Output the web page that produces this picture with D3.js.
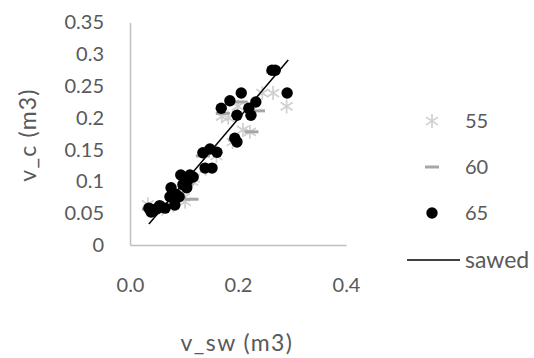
<!DOCTYPE html>
<html><head><meta charset="utf-8">
<script src="https://cdn.jsdelivr.net/npm/d3@7/dist/d3.min.js"></script>
<style>body{margin:0;background:#fff}svg{display:block}</style>
</head><body>
<svg id="c" width="534" height="358"></svg>
<script>
const xTicks = [0, 0.2, 0.4];
const yTicks = [0, 0.05, 0.1, 0.15, 0.2, 0.25, 0.3, 0.35];
const seriesNames = ["55", "60", "65", "sawed"];

const s55x = [0.033,0.045,0.060,0.080,0.102,0.100,0.115,0.140,0.160,0.190,0.209,0.222,0.170,0.200,0.265,0.290,0.182,0.245,0.118];
const s55y = [0.064,0.055,0.057,0.062,0.068,0.075,0.100,0.120,0.140,0.162,0.181,0.178,0.202,0.218,0.239,0.218,0.200,0.239,0.105];

const s60x = [0.035,0.050,0.070,0.090,0.114,0.105,0.135,0.150,0.172,0.237,0.225,0.195,0.265,0.205];
const s60y = [0.056,0.058,0.060,0.075,0.072,0.095,0.140,0.148,0.207,0.211,0.178,0.165,0.272,0.225];

const s65x = [0.035,0.039,0.050,0.065,0.083,0.076,0.074,0.091,0.105,0.107,0.094,0.111,0.117,0.135,0.148,0.161,0.139,0.152,0.194,0.198,0.263,0.269,0.291,0.206,0.185,0.169,0.198,0.220,0.233,0.224,0.055,0.085,0.098,0.045];
const s65y = [0.058,0.052,0.057,0.058,0.063,0.090,0.076,0.076,0.090,0.102,0.110,0.110,0.107,0.145,0.151,0.146,0.121,0.121,0.168,0.162,0.275,0.275,0.239,0.239,0.227,0.215,0.204,0.215,0.225,0.204,0.062,0.080,0.095,0.055];

const sawedX = [0.035, 0.293];
const sawedY = [0.033, 0.291];

const svg = d3.select("#c");
const font = "Lato, 'Open Sans', sans-serif";
const txt = "#595959";
const x = d3.scaleLinear().domain([0, 0.4]).range([130, 346]);
const y = d3.scaleLinear().domain([0, 0.35]).range([245, 22.5]);

// axes
const ya = svg.append("g").attr("transform", "translate(130,0)")
  .call(d3.axisLeft(y).tickValues(yTicks).tickSize(0).tickPadding(26)
    .tickFormat(d => d === 0 ? "0" : String(+d.toFixed(2))));
const xa = svg.append("g").attr("transform", "translate(0,245)")
  .call(d3.axisBottom(x).tickValues(xTicks).tickSize(0).tickPadding(33)
    .tickFormat(d3.format(".1f")));
[ya, xa].forEach(g => {
  g.select(".domain").attr("stroke", "#bfbfbf").attr("stroke-width", 1.5);
  g.selectAll("text").attr("fill", txt).attr("font-family", font).attr("font-size", 20);
});

svg.append("text").attr("transform", "translate(36,135) rotate(-90)")
  .attr("text-anchor", "middle").attr("fill", txt).attr("font-family", font)
  .attr("font-size", 23).attr("letter-spacing", 1.2).text("v_c (m3)");
svg.append("text").attr("x", 237).attr("y", 351)
  .attr("text-anchor", "middle").attr("fill", txt).attr("font-family", font)
  .attr("font-size", 23).attr("letter-spacing", 1.4).text("v_sw (m3)");

function asterisk(g, cx, cy, r) {
  const p = d3.path();
  p.moveTo(cx, cy - r); p.lineTo(cx, cy + r);
  p.moveTo(cx - r*0.85, cy - r*0.55); p.lineTo(cx + r*0.85, cy + r*0.55);
  p.moveTo(cx - r*0.85, cy + r*0.55); p.lineTo(cx + r*0.85, cy - r*0.55);
  g.append("path").attr("d", p.toString()).attr("stroke", "#d0d0d0").attr("stroke-width", 1.7).attr("fill", "none");
}
function dash(g, cx, cy) {
  g.append("line").attr("x1", cx - 7).attr("x2", cx + 7).attr("y1", cy).attr("y2", cy)
    .attr("stroke", "#a6a6a6").attr("stroke-width", 3);
}

const plot = svg.append("g");
s55x.forEach((v, i) => asterisk(plot, x(v), y(s55y[i]), 7));
s60x.forEach((v, i) => dash(plot, x(v), y(s60y[i])));
plot.selectAll("circle.p65").data(s65x).join("circle").attr("class", "p65")
  .attr("cx", d => x(d)).attr("cy", (d, i) => y(s65y[i])).attr("r", 5.7).attr("fill", "#000");
plot.append("line").attr("x1", x(sawedX[0])).attr("y1", y(sawedY[0]))
  .attr("x2", x(sawedX[1])).attr("y2", y(sawedY[1])).attr("stroke", "#000").attr("stroke-width", 1.5);

// legend
const lg = svg.append("g");
const ly = [121, 167, 213, 260];
asterisk(lg, 432, ly[0], 7);
dash(lg, 432, ly[1]);
lg.append("circle").attr("cx", 432).attr("cy", ly[2]).attr("r", 5.7).attr("fill", "#000");
lg.append("line").attr("x1", 407).attr("x2", 460).attr("y1", ly[3]).attr("y2", ly[3]).attr("stroke", "#000").attr("stroke-width", 1.3);
seriesNames.forEach((n, i) => {
  lg.append("text").attr("x", 465).attr("y", ly[i]).attr("dy", "0.35em")
    .attr("fill", txt).attr("font-family", font).attr("font-size", i === 3 ? 23 : 20).text(n);
});
</script>
</body></html>
